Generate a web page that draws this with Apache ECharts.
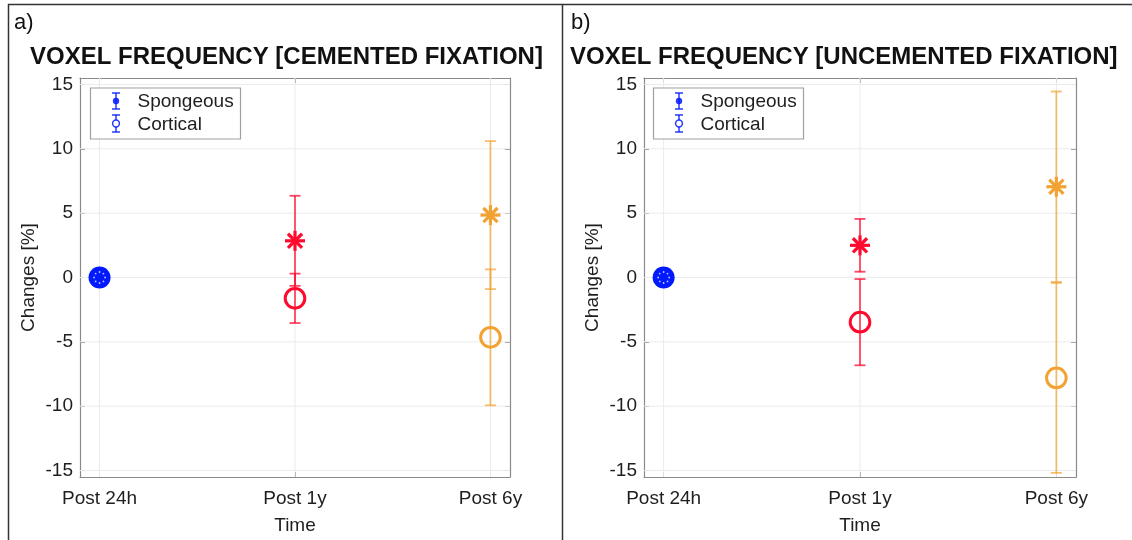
<!DOCTYPE html>
<html>
<head>
<meta charset="utf-8">
<script src="https://cdn.jsdelivr.net/npm/echarts@6/dist/echarts.min.js"></script>
<style>html,body{margin:0;padding:0;background:#fff;}#chart{width:1132px;height:540px;}</style>
</head>
<body>
<div id="chart"></div>
<script>
// ---- data ----
const categories = ['Post 24h', 'Post 1y', 'Post 6y'];
const yTicks = [-15, -10, -5, 0, 5, 10, 15];
const cementedSpongeousMean = [0, 2.85, 4.85];
const cementedSpongeousErr = [0, 3.5, 5.75];
const cementedCorticalMean = [0, -1.62, -4.65];
const cementedCorticalErr = [0, 1.92, 5.28];
const uncementedSpongeousMean = [0, 2.5, 7.05];
const uncementedSpongeousErr = [0, 2.05, 7.4];
const uncementedCorticalMean = [0, -3.47, -7.8];
const uncementedCorticalErr = [0, 3.35, 7.38];
const legendNames = ['Spongeous', 'Cortical'];

const markColors = ['#0019ff', '#ff0a2e', '#f2a232'];
const barColors = ['rgba(0,25,255,0.8)', 'rgba(255,10,46,0.75)', 'rgba(242,162,50,0.7)'];
const FONT = 'Liberation Sans, Arial, Helvetica, sans-serif';
const TXT = '#1e1e1e';

function rows(mean, err) {
  return categories.map((c, i) => [i + 1, mean[i], err[i], i]);
}

function gridRender(params, api) {
  const cs = params.coordSys;
  const ch = [];
  yTicks.forEach(t => {
    const p = api.coord([1, t]);
    ch.push({type: 'line', shape: {x1: cs.x, y1: p[1], x2: cs.x + cs.width, y2: p[1]}, style: {stroke: '#ebebeb', lineWidth: 1}});
  });
  categories.forEach((c, i) => {
    const p = api.coord([i + 1, 0]);
    ch.push({type: 'line', shape: {x1: p[0], y1: cs.y, x2: p[0], y2: cs.y + cs.height}, style: {stroke: '#ebebeb', lineWidth: 1}});
  });
  return {type: 'group', children: ch};
}

function errRender(params, api) {
  const x = api.value(0), m = api.value(1), e = api.value(2), c = api.value(3);
  if (e === 0) return null;
  const t = api.coord([x, m + e]);
  const b = api.coord([x, m - e]);
  const st = {stroke: barColors[c], lineWidth: 1.8};
  const hw = 5.5;
  return {type: 'group', children: [
    {type: 'line', shape: {x1: t[0], y1: t[1], x2: b[0], y2: b[1]}, style: st},
    {type: 'line', shape: {x1: t[0] - hw, y1: t[1], x2: t[0] + hw, y2: t[1]}, style: st},
    {type: 'line', shape: {x1: b[0] - hw, y1: b[1], x2: b[0] + hw, y2: b[1]}, style: st}
  ]};
}

function starRender(params, api) {
  const x = api.value(0), m = api.value(1), c = api.value(3);
  const p = api.coord([x, m]);
  const col = markColors[c];
  const ch = [];
  if (c === 0) {
    for (let k = 0; k < 8; k++) {
      const a = k * Math.PI / 4;
      ch.push({type: 'circle', shape: {cx: p[0] + 5.5 * Math.cos(a), cy: p[1] + 5.5 * Math.sin(a), r: 0.9}, style: {fill: 'rgba(255,255,255,0.75)'}});
    }
    return {type: 'group', children: ch};
  }
  const r = 10;
  for (let k = 0; k < 4; k++) {
    const a = k * Math.PI / 4;
    ch.push({type: 'line', shape: {x1: p[0] - r * Math.cos(a), y1: p[1] - r * Math.sin(a), x2: p[0] + r * Math.cos(a), y2: p[1] + r * Math.sin(a)}, style: {stroke: col, lineWidth: 3.2}});
  }
  return {type: 'group', children: ch};
}

function circRender(params, api) {
  const x = api.value(0), m = api.value(1), c = api.value(3);
  const p = api.coord([x, m]);
  const col = markColors[c];
  if (c === 0) {
    return {type: 'circle', shape: {cx: p[0], cy: p[1], r: 11}, style: {fill: col}};
  }
  return {type: 'circle', shape: {cx: p[0], cy: p[1], r: 9.8}, style: {fill: 'none', stroke: col, lineWidth: 3}};
}

const panels = [
  {left: 80, width: 430, sm: cementedSpongeousMean, se: cementedSpongeousErr, cm: cementedCorticalMean, ce: cementedCorticalErr},
  {left: 644, width: 432, sm: uncementedSpongeousMean, se: uncementedSpongeousErr, cm: uncementedCorticalMean, ce: uncementedCorticalErr}
];

const grid = [], xAxis = [], yAxis = [], series = [];
const axisLineStyle = {color: '#8a8a8a', width: 1.2};
panels.forEach((pn, g) => {
  grid.push({left: pn.left, width: pn.width, top: 78, height: 403, containLabel: false});
  const xBase = {type: 'value', gridIndex: g, min: 0.9, max: 3.1,
    axisLine: {show: true, onZero: false, lineStyle: axisLineStyle}, splitLine: {show: false},
    axisTick: {show: true, inside: true, length: 5, customValues: [1, 2, 3], lineStyle: {color: '#8a8a8a'}}};
  xAxis.push(Object.assign({}, xBase, {position: 'bottom',
    name: 'Time', nameLocation: 'middle', nameGap: 39,
    nameTextStyle: {fontFamily: FONT, fontSize: 19, color: TXT},
    axisLabel: {show: true, customValues: [1, 2, 3], margin: 12, fontFamily: FONT, fontSize: 19, color: TXT,
      formatter: v => categories[Math.round(v) - 1]}}));
  xAxis.push(Object.assign({}, xBase, {position: 'top', axisLabel: {show: false}}));
  const yBase = {type: 'value', gridIndex: g, min: -15.5, max: 15.5,
    axisLine: {show: true, onZero: false, lineStyle: axisLineStyle}, splitLine: {show: false},
    axisTick: {show: true, inside: true, length: 5, customValues: yTicks, lineStyle: {color: '#8a8a8a'}}};
  yAxis.push(Object.assign({}, yBase, {position: 'left',
    name: 'Changes [%]', nameLocation: 'middle', nameGap: 42, nameRotate: 90,
    nameTextStyle: {fontFamily: FONT, fontSize: 19, color: TXT},
    axisLabel: {show: true, customValues: yTicks, margin: 7, fontFamily: FONT, fontSize: 19, color: TXT}}));
  yAxis.push(Object.assign({}, yBase, {position: 'right', axisLabel: {show: false}}));
  const xi = g * 2, yi = g * 2;
  series.push({type: 'custom', xAxisIndex: xi, yAxisIndex: yi, z: 1, silent: true, data: [[1, 0, 0, 0]], renderItem: gridRender});
  series.push({type: 'custom', name: legendNames[0] + ' err', xAxisIndex: xi, yAxisIndex: yi, z: 2, silent: true, data: rows(pn.sm, pn.se), renderItem: errRender});
  series.push({type: 'custom', name: legendNames[1] + ' err', xAxisIndex: xi, yAxisIndex: yi, z: 2, silent: true, data: rows(pn.cm, pn.ce), renderItem: errRender});
  series.push({type: 'custom', name: legendNames[1], xAxisIndex: xi, yAxisIndex: yi, z: 3, silent: true, data: rows(pn.cm, pn.ce), renderItem: circRender});
  series.push({type: 'custom', name: legendNames[0], xAxisIndex: xi, yAxisIndex: yi, z: 4, silent: true, data: rows(pn.sm, pn.se), renderItem: starRender});
});

function legendGraphic(x0) {
  const blue = 'rgba(0,25,255,0.85)';
  const ix = x0 + 25.5;
  const els = [
    {type: 'rect', shape: {x: x0, y: 88, width: 150, height: 51}, style: {fill: '#fff', stroke: '#a0a0a0', lineWidth: 1.2}, z: 10},
    {type: 'line', shape: {x1: ix, y1: 93, x2: ix, y2: 109}, style: {stroke: blue, lineWidth: 1.5}, z: 11},
    {type: 'line', shape: {x1: ix - 4, y1: 93, x2: ix + 4, y2: 93}, style: {stroke: blue, lineWidth: 1.5}, z: 11},
    {type: 'line', shape: {x1: ix - 4, y1: 109, x2: ix + 4, y2: 109}, style: {stroke: blue, lineWidth: 1.5}, z: 11},
    {type: 'circle', shape: {cx: ix, cy: 101, r: 3.2}, style: {fill: blue}, z: 11},
    {type: 'line', shape: {x1: ix, y1: 115, x2: ix, y2: 132}, style: {stroke: blue, lineWidth: 1.5}, z: 11},
    {type: 'line', shape: {x1: ix - 4, y1: 115, x2: ix + 4, y2: 115}, style: {stroke: blue, lineWidth: 1.5}, z: 11},
    {type: 'line', shape: {x1: ix - 4, y1: 132, x2: ix + 4, y2: 132}, style: {stroke: blue, lineWidth: 1.5}, z: 11},
    {type: 'circle', shape: {cx: ix, cy: 123.5, r: 3.4}, style: {fill: '#fff', stroke: blue, lineWidth: 1.5}, z: 11},
    {type: 'text', x: x0 + 47, y: 102, style: {text: legendNames[0], fontFamily: FONT, fontSize: 19, fill: TXT, verticalAlign: 'middle'}, z: 11},
    {type: 'text', x: x0 + 47, y: 124.5, style: {text: legendNames[1], fontFamily: FONT, fontSize: 19, fill: TXT, verticalAlign: 'middle'}, z: 11}
  ];
  return els;
}

const frame = [
  {type: 'line', shape: {x1: 8, y1: 4.5, x2: 1132, y2: 4.5}, style: {stroke: '#333', lineWidth: 1.5}},
  {type: 'line', shape: {x1: 8.5, y1: 4, x2: 8.5, y2: 540}, style: {stroke: '#333', lineWidth: 1.5}},
  {type: 'line', shape: {x1: 562.5, y1: 4, x2: 562.5, y2: 540}, style: {stroke: '#333', lineWidth: 1.5}}
];

const chart = echarts.init(document.getElementById('chart'), null, {renderer: 'canvas'});
chart.setOption({
  animation: false,
  backgroundColor: '#fff',
  title: [
    {text: 'a)', left: 14, top: 12, padding: 0, textStyle: {fontFamily: FONT, fontSize: 22, fontWeight: 'normal', color: '#111'}},
    {text: 'VOXEL FREQUENCY [CEMENTED FIXATION]', left: 30, top: 45, padding: 0, textStyle: {fontFamily: FONT, fontSize: 24, fontWeight: 'bold', color: '#111'}},
    {text: 'b)', left: 571, top: 12, padding: 0, textStyle: {fontFamily: FONT, fontSize: 22, fontWeight: 'normal', color: '#111'}},
    {text: 'VOXEL FREQUENCY [UNCEMENTED FIXATION]', left: 570, top: 45, padding: 0, textStyle: {fontFamily: FONT, fontSize: 24, fontWeight: 'bold', color: '#111'}}
  ],
  grid: grid,
  xAxis: xAxis,
  yAxis: yAxis,
  series: series,
  graphic: frame.concat(legendGraphic(90.5), legendGraphic(653.5))
});
</script>
</body>
</html>
